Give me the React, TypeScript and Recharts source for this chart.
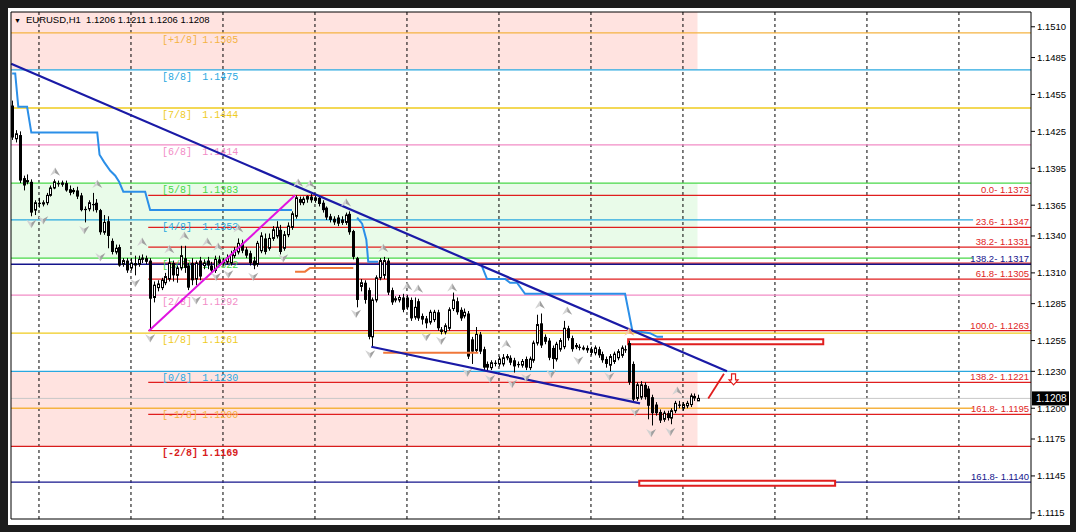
import React from 'react';
import {
  ComposedChart,
  Bar,
  Line,
  XAxis,
  YAxis,
  ReferenceLine,
  ReferenceArea,
  ReferenceDot,
} from 'recharts';

// EURUSD H1, one entry per bar: [open, high, low, close]
const candles: [number, number, number, number][] = [
  [1.1446, 1.1450, 1.1418, 1.1420], [1.1419, 1.1426, 1.1416, 1.1423], [1.1422, 1.1425, 1.1383, 1.1385],
  [1.1387, 1.1389, 1.1377, 1.1381], [1.1384, 1.1390, 1.1382, 1.1385], [1.1384, 1.1386, 1.1356, 1.1359],
  [1.1361, 1.1369, 1.1357, 1.1367], [1.1367, 1.1371, 1.1363, 1.1366], [1.1366, 1.1369, 1.1364, 1.1367],
  [1.1367, 1.1375, 1.1365, 1.1373], [1.1373, 1.1381, 1.1372, 1.1379], [1.1379, 1.1386, 1.1378, 1.1384],
  [1.1383, 1.1385, 1.1380, 1.1382], [1.1382, 1.1385, 1.1380, 1.1383], [1.1383, 1.1385, 1.1376, 1.1377],
  [1.1378, 1.1381, 1.1373, 1.1375], [1.1376, 1.1379, 1.1374, 1.1377], [1.1377, 1.1380, 1.1370, 1.1372],
  [1.1373, 1.1375, 1.1360, 1.1361], [1.1362, 1.1364, 1.1351, 1.1361], [1.1362, 1.1369, 1.1360, 1.1367],
  [1.1366, 1.1375, 1.1360, 1.1365], [1.1367, 1.1370, 1.1359, 1.1361], [1.1361, 1.1362, 1.1341, 1.1343],
  [1.1343, 1.1357, 1.1341, 1.1351], [1.1352, 1.1356, 1.1330, 1.1340], [1.1336, 1.1338, 1.1325, 1.1327],
  [1.1327, 1.1333, 1.1325, 1.1330], [1.1331, 1.1333, 1.1315, 1.1316], [1.1317, 1.1322, 1.1315, 1.1320],
  [1.1320, 1.1322, 1.1310, 1.1312], [1.1314, 1.1322, 1.1312, 1.1318], [1.1318, 1.1324, 1.1308, 1.1316],
  [1.1317, 1.1324, 1.1315, 1.1321], [1.1321, 1.1325, 1.1318, 1.1322], [1.1322, 1.1324, 1.1317, 1.1319],
  [1.1320, 1.1322, 1.1263, 1.1289], [1.1290, 1.1303, 1.1286, 1.1300], [1.1298, 1.1304, 1.1295, 1.1301],
  [1.1298, 1.1306, 1.1296, 1.1304], [1.1302, 1.1310, 1.1300, 1.1307], [1.1305, 1.1322, 1.1303, 1.1318],
  [1.1318, 1.1320, 1.1303, 1.1308], [1.1308, 1.1316, 1.1302, 1.1314], [1.1314, 1.1332, 1.1312, 1.1324],
  [1.1322, 1.1332, 1.1310, 1.1314], [1.1316, 1.1318, 1.1296, 1.1298], [1.1318, 1.1322, 1.1300, 1.1304],
  [1.1305, 1.1320, 1.1300, 1.1318], [1.1320, 1.1323, 1.1304, 1.1307], [1.1316, 1.1321, 1.1313, 1.1318],
  [1.1320, 1.1323, 1.1313, 1.1316], [1.1316, 1.1319, 1.1309, 1.1312], [1.1312, 1.1324, 1.1310, 1.1321],
  [1.1321, 1.1324, 1.1316, 1.1318], [1.1318, 1.1322, 1.1316, 1.1319], [1.1319, 1.1325, 1.1317, 1.1322],
  [1.1318, 1.1328, 1.1316, 1.1325], [1.1324, 1.1331, 1.1322, 1.1328], [1.1327, 1.1338, 1.1325, 1.1334],
  [1.1334, 1.1337, 1.1326, 1.1328], [1.1329, 1.1331, 1.1322, 1.1324], [1.1326, 1.1328, 1.1316, 1.1318],
  [1.1320, 1.1323, 1.1313, 1.1316], [1.1317, 1.1336, 1.1315, 1.1334], [1.1328, 1.1343, 1.1326, 1.1340],
  [1.1338, 1.1342, 1.1325, 1.1327], [1.1330, 1.1342, 1.1328, 1.1338], [1.1338, 1.1348, 1.1336, 1.1345],
  [1.1340, 1.1352, 1.1338, 1.1347], [1.1345, 1.1349, 1.1325, 1.1327], [1.1330, 1.1344, 1.1328, 1.1341],
  [1.1341, 1.1351, 1.1339, 1.1348], [1.1347, 1.1360, 1.1345, 1.1358], [1.1356, 1.1373, 1.1354, 1.1371],
  [1.1370, 1.1372, 1.1365, 1.1367], [1.1367, 1.1372, 1.1365, 1.1370], [1.1370, 1.1373, 1.1367, 1.1372],
  [1.1372, 1.1374, 1.1367, 1.1369], [1.1369, 1.1373, 1.1367, 1.1371], [1.1371, 1.1373, 1.1364, 1.1366],
  [1.1367, 1.1369, 1.1359, 1.1361], [1.1363, 1.1364, 1.1353, 1.1355], [1.1356, 1.1358, 1.1351, 1.1353],
  [1.1354, 1.1356, 1.1349, 1.1351], [1.1355, 1.1357, 1.1348, 1.1350], [1.1351, 1.1356, 1.1349, 1.1353],
  [1.1351, 1.1359, 1.1349, 1.1357], [1.1358, 1.1360, 1.1341, 1.1343], [1.1344, 1.1345, 1.1321, 1.1323],
  [1.1322, 1.1323, 1.1282, 1.1288], [1.1299, 1.1305, 1.1295, 1.1302], [1.1302, 1.1304, 1.1285, 1.1288],
  [1.1296, 1.1298, 1.1256, 1.1258], [1.1258, 1.1290, 1.1250, 1.1288], [1.1288, 1.1308, 1.1286, 1.1306],
  [1.1306, 1.1322, 1.1304, 1.1320], [1.1308, 1.1323, 1.1305, 1.1320], [1.1320, 1.1322, 1.1292, 1.1294],
  [1.1296, 1.1298, 1.1284, 1.1286], [1.1288, 1.1291, 1.1286, 1.1289], [1.1288, 1.1292, 1.1286, 1.1290],
  [1.1290, 1.1293, 1.1278, 1.1280], [1.1290, 1.1292, 1.1280, 1.1282], [1.1288, 1.1290, 1.1271, 1.1273],
  [1.1274, 1.1290, 1.1272, 1.1282], [1.1287, 1.1289, 1.1271, 1.1273], [1.1275, 1.1277, 1.1268, 1.1272],
  [1.1273, 1.1275, 1.1265, 1.1269], [1.1270, 1.1280, 1.1268, 1.1278], [1.1272, 1.1280, 1.1270, 1.1278],
  [1.1278, 1.1280, 1.1263, 1.1265], [1.1264, 1.1266, 1.1260, 1.1262], [1.1262, 1.1269, 1.1260, 1.1267],
  [1.1265, 1.1282, 1.1263, 1.1280], [1.1281, 1.1294, 1.1279, 1.1288], [1.1287, 1.1290, 1.1276, 1.1278],
  [1.1280, 1.1282, 1.1271, 1.1273], [1.1275, 1.1281, 1.1273, 1.1278], [1.1277, 1.1279, 1.1240, 1.1242],
  [1.1256, 1.1258, 1.1236, 1.1246], [1.1247, 1.1266, 1.1245, 1.1260], [1.1260, 1.1262, 1.1244, 1.1246],
  [1.1248, 1.1250, 1.1231, 1.1233], [1.1236, 1.1238, 1.1230, 1.1233], [1.1233, 1.1239, 1.1231, 1.1237],
  [1.1237, 1.1239, 1.1234, 1.1236], [1.1236, 1.1242, 1.1234, 1.1240], [1.1236, 1.1244, 1.1234, 1.1241],
  [1.1241, 1.1244, 1.1239, 1.1242], [1.1241, 1.1243, 1.1235, 1.1237], [1.1239, 1.1241, 1.1229, 1.1234],
  [1.1236, 1.1238, 1.1233, 1.1235], [1.1235, 1.1240, 1.1233, 1.1238], [1.1240, 1.1242, 1.1231, 1.1233],
  [1.1233, 1.1242, 1.1231, 1.1240], [1.1239, 1.1255, 1.1237, 1.1253], [1.1253, 1.1276, 1.1251, 1.1268],
  [1.1269, 1.1277, 1.1249, 1.1251], [1.1258, 1.1260, 1.1252, 1.1254], [1.1255, 1.1257, 1.1239, 1.1241],
  [1.1249, 1.1251, 1.1232, 1.1240], [1.1240, 1.1254, 1.1238, 1.1252], [1.1248, 1.1257, 1.1246, 1.1255],
  [1.1250, 1.1271, 1.1248, 1.1265], [1.1265, 1.1267, 1.1255, 1.1257], [1.1257, 1.1259, 1.1246, 1.1248],
  [1.1250, 1.1253, 1.1248, 1.1251], [1.1250, 1.1252, 1.1247, 1.1249], [1.1249, 1.1251, 1.1247, 1.1249],
  [1.1249, 1.1251, 1.1245, 1.1247], [1.1248, 1.1250, 1.1243, 1.1245], [1.1245, 1.1251, 1.1243, 1.1249],
  [1.1248, 1.1250, 1.1241, 1.1243], [1.1244, 1.1246, 1.1237, 1.1239], [1.1240, 1.1242, 1.1233, 1.1236],
  [1.1235, 1.1244, 1.1230, 1.1242], [1.1238, 1.1246, 1.1236, 1.1244], [1.1241, 1.1248, 1.1239, 1.1246],
  [1.1243, 1.1251, 1.1241, 1.1249], [1.1248, 1.1251, 1.1245, 1.1247], [1.1253, 1.1255, 1.1219, 1.1221],
  [1.1236, 1.1238, 1.1205, 1.1207], [1.1208, 1.1221, 1.1206, 1.1219], [1.1209, 1.1222, 1.1207, 1.1219],
  [1.1219, 1.1221, 1.1207, 1.1209], [1.1216, 1.1218, 1.1191, 1.1202], [1.1209, 1.1211, 1.1186, 1.1196],
  [1.1203, 1.1205, 1.1194, 1.1196], [1.1197, 1.1199, 1.1188, 1.1190], [1.1191, 1.1198, 1.1189, 1.1196],
  [1.1196, 1.1198, 1.1190, 1.1192], [1.1192, 1.1200, 1.1187, 1.1198], [1.1198, 1.1206, 1.1196, 1.1204],
  [1.1203, 1.1206, 1.1200, 1.1202], [1.1200, 1.1205, 1.1198, 1.1203], [1.1202, 1.1206, 1.1200, 1.1204],
  [1.1203, 1.1212, 1.1201, 1.1210], [1.1210, 1.1212, 1.1206, 1.1208], [1.1206, 1.1211, 1.1206, 1.1208],
];

const priceTicks = [1.151, 1.1485, 1.1455, 1.1425, 1.1395, 1.1365, 1.134, 1.131, 1.1285, 1.1255, 1.123, 1.12, 1.1175, 1.1145, 1.1115];
// bar numbers where the dotted period separators fall
const periodBars = [7, 31, 55, 79, 103, 127, 151, 175, 199, 223, 247];

// Murrey math levels
const murreyTags = ['[+1/8]', '[8/8]', '[7/8]', '[6/8]', '[5/8]', '[4/8]', '[3/8]', '[2/8]', '[1/8]', '[0/8]', '[-1/8]', '[-2/8]'];
const murreyPrices = [1.1505, 1.1475, 1.1444, 1.1414, 1.1383, 1.1353, 1.1322, 1.1292, 1.1261, 1.123, 1.12, 1.1169];

// fibonacci levels (captions on the right)
const fibTags = ['0.0', '23.6', '38.2', '138.2', '61.8', '100.0', '138.2', '161.8', '161.8'];
const fibPrices = [1.1373, 1.1347, 1.1331, 1.1317, 1.1305, 1.1263, 1.1221, 1.1195, 1.114];
const fibRedLines = [1.1373, 1.1347, 1.1331, 1.1318, 1.1305, 1.1263, 1.1221, 1.1195];
const navyLines = [1.1317, 1.114];
const lastPrice = 1.1208;

// trailing stop, [bar, price]
const stopBlue1: [number, number][] = [
  [0, 1.1472], [0.8, 1.1472], [1.6, 1.1445], [3.9, 1.1445], [5, 1.1424], [22.2, 1.1424], [22.8, 1.1406],
  [24, 1.14], [25.6, 1.1393], [26.9, 1.1389], [27.9, 1.1384], [29, 1.1376], [34.7, 1.1376], [36, 1.1361], [73, 1.1361],
];
const stopBlue2: [number, number][] = [[90, 1.1355], [91.3, 1.135], [92.4, 1.1337], [92.9, 1.1319], [95.5, 1.1319]];
const stopBlue3: [number, number][] = [
  [122.6, 1.1315], [123.9, 1.1305], [128.6, 1.1305], [129.9, 1.1302], [131.7, 1.1302], [133.8, 1.1293],
  [159.9, 1.1293], [161.8, 1.1263], [166.4, 1.1261], [168.3, 1.1258], [169.8, 1.1258],
];
const stopOrange1: [number, number][] = [[73.8, 1.1311], [76.4, 1.1311], [77.7, 1.1314], [89, 1.1314]];
const stopOrange2: [number, number][] = [[96.8, 1.1245], [121.6, 1.1245]];

// drawn objects
const trendUpper: [number, number][] = [[-0.26, 1.148], [186.5, 1.123]];
const trendLower: [number, number][] = [[93.7, 1.125], [163.8, 1.1204]];
const fibSwing: [number, number][] = [[35.7, 1.1263], [73.8, 1.1373]];
const targetStroke: [number, number][] = [[181.6, 1.1208], [185.7, 1.1228]];
const targetArrow: [number, number] = [188.2, 1.1223];
const boxUpper = [160.7, 211.6, 1.1252, 1.1256];
const boxLower = [163.6, 214.7, 1.1137, 1.1141];

// fractals, [bar, price]
const fractalUp: [number, number][] = [
  [11.2, 1.1392], [22.2, 1.1382], [33.9, 1.1335], [41, 1.1329], [44.9, 1.134], [50.9, 1.1335], [53.7, 1.1331],
  [59, 1.1346], [74.6, 1.1383], [77.7, 1.1382], [87.1, 1.1367], [96.8, 1.133], [103.1, 1.1299], [105.9, 1.1297],
  [114.8, 1.1298], [128.9, 1.1252], [137.7, 1.1284], [144.8, 1.1279], [173.5, 1.1214],
];
const fractalDown: [number, number][] = [
  [5, 1.135], [8.1, 1.1353], [18.8, 1.1345], [23, 1.1323], [32.1, 1.1302], [36, 1.1257], [48, 1.1288],
  [53.2, 1.1307], [56.4, 1.1309], [62.9, 1.1307], [70.7, 1.1322], [89.7, 1.1277], [93.4, 1.1244],
  [108, 1.1258], [111.9, 1.1255], [118.7, 1.1229], [124.7, 1.1224], [130.4, 1.122], [134.1, 1.1225],
  [140.6, 1.1228], [147.7, 1.1239], [155.8, 1.1226], [162.5, 1.1197], [166.7, 1.118], [171.7, 1.1181],
];
const signalUp: [number, number][] = [[161, 1.1262]];

// ---- layout / style ----
const X_MIN = -0.3;
const X_MAX = 265.8;
const Y_MIN = 1.111;
const Y_MAX = 1.1522;
const ZONE_END = 178.8;
const FIB_START = 35.5;
const CAPTION_CUT = 250.7;
const TAG_X = 39.1;
const VALUE_X = 49.6;
const murreyColors = ['#f5b342', '#29a8e0', '#efcb1e', '#f28cc6', '#48d848', '#29a8e0', '#48d848', '#f28cc6', '#efcb1e', '#29a8e0', '#f5b342', '#d81c1c'];
const shortMurrey = [5, 6, 10];
const RED = '#e01e1e';
const NAVY = '#14148c';

const candleData = candles.map(([o, h, l, c], i) => ({ i, o, h, l, c }));
const pts = (a: [number, number][]) => a.map(([i, p]) => ({ i, p }));
const seg = (a: [number, number][]) => a.map(([x, y]) => ({ x, y }));

function Candle(props: any) {
  const { x, y, width, height, payload } = props;
  const { o, h, l, c } = payload;
  const cx = Math.round(x + width / 2) + 0.5;
  const span = h - l || 1e-9;
  const py = (v: number) => y + ((h - v) / span) * height;
  const top = py(Math.max(o, c));
  const bot = py(Math.min(o, c));
  const bull = c >= o;
  return (
    <g>
      <line x1={cx} x2={cx} y1={y} y2={y + height} stroke="#000" strokeWidth={1} />
      {bull ? (
        <rect x={cx - 1} y={top} width={2} height={Math.max(bot - top, 1)} fill="#fff" stroke="#000" strokeWidth={1} />
      ) : (
        <rect x={cx - 1.5} y={top} width={3} height={Math.max(bot - top, 1)} fill="#000" />
      )}
    </g>
  );
}

function FractalArrow({ cx, cy, up, light, dark }: any) {
  const s = up ? 1 : -1;
  const tip = `${cx},${cy - 4.5 * s}`;
  const notch = `${cx},${cy + 1 * s}`;
  return (
    <g>
      <path d={`M${tip} L${cx - 5},${cy + 3.8 * s} L${notch} Z`} fill={light} />
      <path d={`M${tip} L${cx + 5},${cy + 3.8 * s} L${notch} Z`} fill={dark} />
    </g>
  );
}

function HollowDown({ cx, cy }: any) {
  const d = `M${cx - 2},${cy - 6} L${cx + 2},${cy - 6} L${cx + 2},${cy} L${cx + 4.5},${cy} L${cx},${cy + 5} L${cx - 4.5},${cy} L${cx - 2},${cy} Z`;
  return <path d={d} fill="#fff" stroke={RED} strokeWidth={1.2} />;
}

export default function App() {
  return (
    <div style={{ position: 'fixed', left: 0, top: 0, width: 1076, height: 532, background: '#1c1c1c', overflow: 'hidden' }}>
      <div style={{ position: 'absolute', left: 8, top: 8, width: 1062, height: 517, background: '#fff' }}>
        <ComposedChart width={1062} height={517} data={candleData} margin={{ top: 4, right: 0, bottom: 6, left: 3 }}>
          <XAxis type="number" dataKey="i" domain={[X_MIN, X_MAX]} allowDataOverflow hide />
          <YAxis
            orientation="right"
            type="number"
            domain={[Y_MIN, Y_MAX]}
            allowDataOverflow
            ticks={priceTicks}
            interval={0}
            width={39}
            axisLine={false}
            tickSize={4}
            tickLine={{ stroke: '#000' }}
            tick={{ fontSize: 9.5, fill: '#000', fontFamily: 'Liberation Sans, Arial, sans-serif' }}
            tickFormatter={(v: number) => v.toFixed(4)}
          />

          {/* shaded Murrey zones */}
          <ReferenceArea zIndex={10} x1={X_MIN} x2={ZONE_END} y1={murreyPrices[1]} y2={Y_MAX} fill="#ffe3e0" fillOpacity={1} stroke="none" />
          <ReferenceArea zIndex={10} x1={X_MIN} x2={ZONE_END} y1={murreyPrices[6]} y2={murreyPrices[4]} fill="#e9fbe9" fillOpacity={1} stroke="none" />
          <ReferenceArea zIndex={10} x1={X_MIN} x2={ZONE_END} y1={murreyPrices[11]} y2={murreyPrices[9]} fill="#ffe3e0" fillOpacity={1} stroke="none" />

          {periodBars.map((b) => (
            <ReferenceLine key={`g${b}`} zIndex={20} x={b} stroke="#000" strokeDasharray="3 3" strokeWidth={1} />
          ))}

          {/* horizontal levels */}
          <ReferenceLine zIndex={25} y={lastPrice} stroke="#c8c8c8" strokeWidth={1} />
          {murreyPrices.map((p, k) =>
            shortMurrey.includes(k) ? (
              <ReferenceLine key={`m${k}`} zIndex={30} segment={[{ x: X_MIN, y: p }, { x: CAPTION_CUT, y: p }]} stroke={murreyColors[k]} strokeWidth={1.3} />
            ) : (
              <ReferenceLine key={`m${k}`} zIndex={30} y={p} stroke={murreyColors[k]} strokeWidth={1.3} />
            ),
          )}
          {fibRedLines.map((p, k) => (
            <ReferenceLine key={`f${k}`} zIndex={32} segment={[{ x: FIB_START, y: p }, { x: X_MAX, y: p }]} stroke={RED} strokeWidth={1.3} />
          ))}
          {navyLines.map((p, k) => (
            <ReferenceLine key={`n${k}`} zIndex={33} y={p} stroke={NAVY} strokeWidth={1.3} />
          ))}

          {murreyPrices.map((p, k) => (
            <ReferenceDot
              key={`mt${k}`}
              zIndex={40}
              x={TAG_X}
              y={p}
              r={0}
              shape={(s: any) => (
                <text x={s.cx} y={s.cy + 10} fill={murreyColors[k]} fontSize={10} fontFamily="Liberation Mono, monospace" fontWeight={k === 11 ? 700 : 400}>
                  {murreyTags[k]}
                </text>
              )}
            />
          ))}
          {murreyPrices.map((p, k) => (
            <ReferenceDot
              key={`mv${k}`}
              zIndex={40}
              x={VALUE_X}
              y={p}
              r={0}
              shape={(s: any) => (
                <text x={s.cx} y={s.cy + 10} fill={murreyColors[k]} fontSize={10} fontFamily="Liberation Mono, monospace" fontWeight={k === 11 ? 700 : 400}>
                  {p.toFixed(4)}
                </text>
              )}
            />
          ))}

          <ReferenceArea zIndex={45} x1={boxUpper[0]} x2={boxUpper[1]} y1={boxUpper[2]} y2={boxUpper[3]} fill="#fff" fillOpacity={1} stroke={RED} strokeWidth={2} />
          <ReferenceArea zIndex={45} x1={boxLower[0]} x2={boxLower[1]} y1={boxLower[2]} y2={boxLower[3]} fill="#fff" fillOpacity={1} stroke={RED} strokeWidth={2} />

          <Bar dataKey={(d: any) => [d.l, d.h]} barSize={3} shape={<Candle />} isAnimationActive={false} />

          {[stopBlue1, stopBlue2, stopBlue3].map((s, k) => (
            <Line key={`sb${k}`} data={pts(s)} dataKey="p" type="linear" stroke="#2b8fe8" strokeWidth={2} dot={false} activeDot={false} isAnimationActive={false} />
          ))}
          {[stopOrange1, stopOrange2].map((s, k) => (
            <Line key={`so${k}`} data={pts(s)} dataKey="p" type="linear" stroke="#f0773a" strokeWidth={2} dot={false} activeDot={false} isAnimationActive={false} />
          ))}

          <ReferenceLine zIndex={450} segment={seg(trendUpper)} stroke="#1a1aa6" strokeWidth={2.2} />
          <ReferenceLine zIndex={450} segment={seg(trendLower)} stroke="#1a1aa6" strokeWidth={2.2} />
          <ReferenceLine zIndex={450} segment={seg(fibSwing)} stroke="#e014e0" strokeWidth={2} />
          <ReferenceLine zIndex={450} segment={seg(targetStroke)} stroke={RED} strokeWidth={1.8} />
          <ReferenceDot zIndex={460} x={targetArrow[0]} y={targetArrow[1]} r={0} shape={(s: any) => <HollowDown cx={s.cx} cy={s.cy} />} />

          {fractalUp.map(([i, p], k) => (
            <ReferenceDot key={`fu${k}`} zIndex={600} x={i} y={p} r={0} shape={(s: any) => <FractalArrow cx={s.cx} cy={s.cy} up light="#d2d2d2" dark="#a0a0a0" />} />
          ))}
          {fractalDown.map(([i, p], k) => (
            <ReferenceDot key={`fd${k}`} zIndex={600} x={i} y={p} r={0} shape={(s: any) => <FractalArrow cx={s.cx} cy={s.cy} up={false} light="#d2d2d2" dark="#a0a0a0" />} />
          ))}
          {signalUp.map(([i, p], k) => (
            <ReferenceDot key={`su${k}`} zIndex={600} x={i} y={p} r={0} shape={(s: any) => <FractalArrow cx={s.cx} cy={s.cy} up light="#f8c8a8" dark="#ec9470" />} />
          ))}

          {fibPrices.map((p, k) => (
            <ReferenceDot
              key={`fl${k}`}
              zIndex={650}
              x={X_MAX}
              y={p}
              r={0}
              shape={(s: any) => (
                <text x={s.cx - 2} y={s.cy - 2} textAnchor="end" fill={k === 3 || k === 8 ? NAVY : RED} fontSize={9.5} fontFamily="Liberation Sans, Arial, sans-serif">
                  {`${fibTags[k]}- ${p.toFixed(4)}`}
                </text>
              )}
            />
          ))}

          <ReferenceArea zIndex={700} x1={X_MIN} x2={X_MAX} y1={Y_MIN} y2={Y_MAX} fill="none" stroke="#000" strokeWidth={1} />
          <ReferenceDot
            zIndex={800}
            x={X_MAX}
            y={lastPrice}
            r={0}
            shape={(s: any) => (
              <g>
                <rect x={s.cx + 1} y={s.cy - 7} width={37} height={14} fill="#000" />
                <text x={s.cx + 5} y={s.cy + 4} fill="#fff" fontSize={10} fontFamily="Liberation Sans, Arial, sans-serif">
                  {lastPrice.toFixed(4)}
                </text>
              </g>
            )}
          />
        </ComposedChart>
        <div
          style={{
            position: 'absolute',
            left: 6,
            top: 6,
            fontFamily: 'Liberation Sans, Arial, sans-serif',
            fontSize: 9.5,
            lineHeight: '12px',
            color: '#000',
            whiteSpace: 'pre',
          }}
        >
          <span style={{ fontSize: 7, marginRight: 5 }}>▼</span>
          {'EURUSD,H1  1.1206 1.1211 1.1206 1.1208'}
        </div>
      </div>
    </div>
  );
}
